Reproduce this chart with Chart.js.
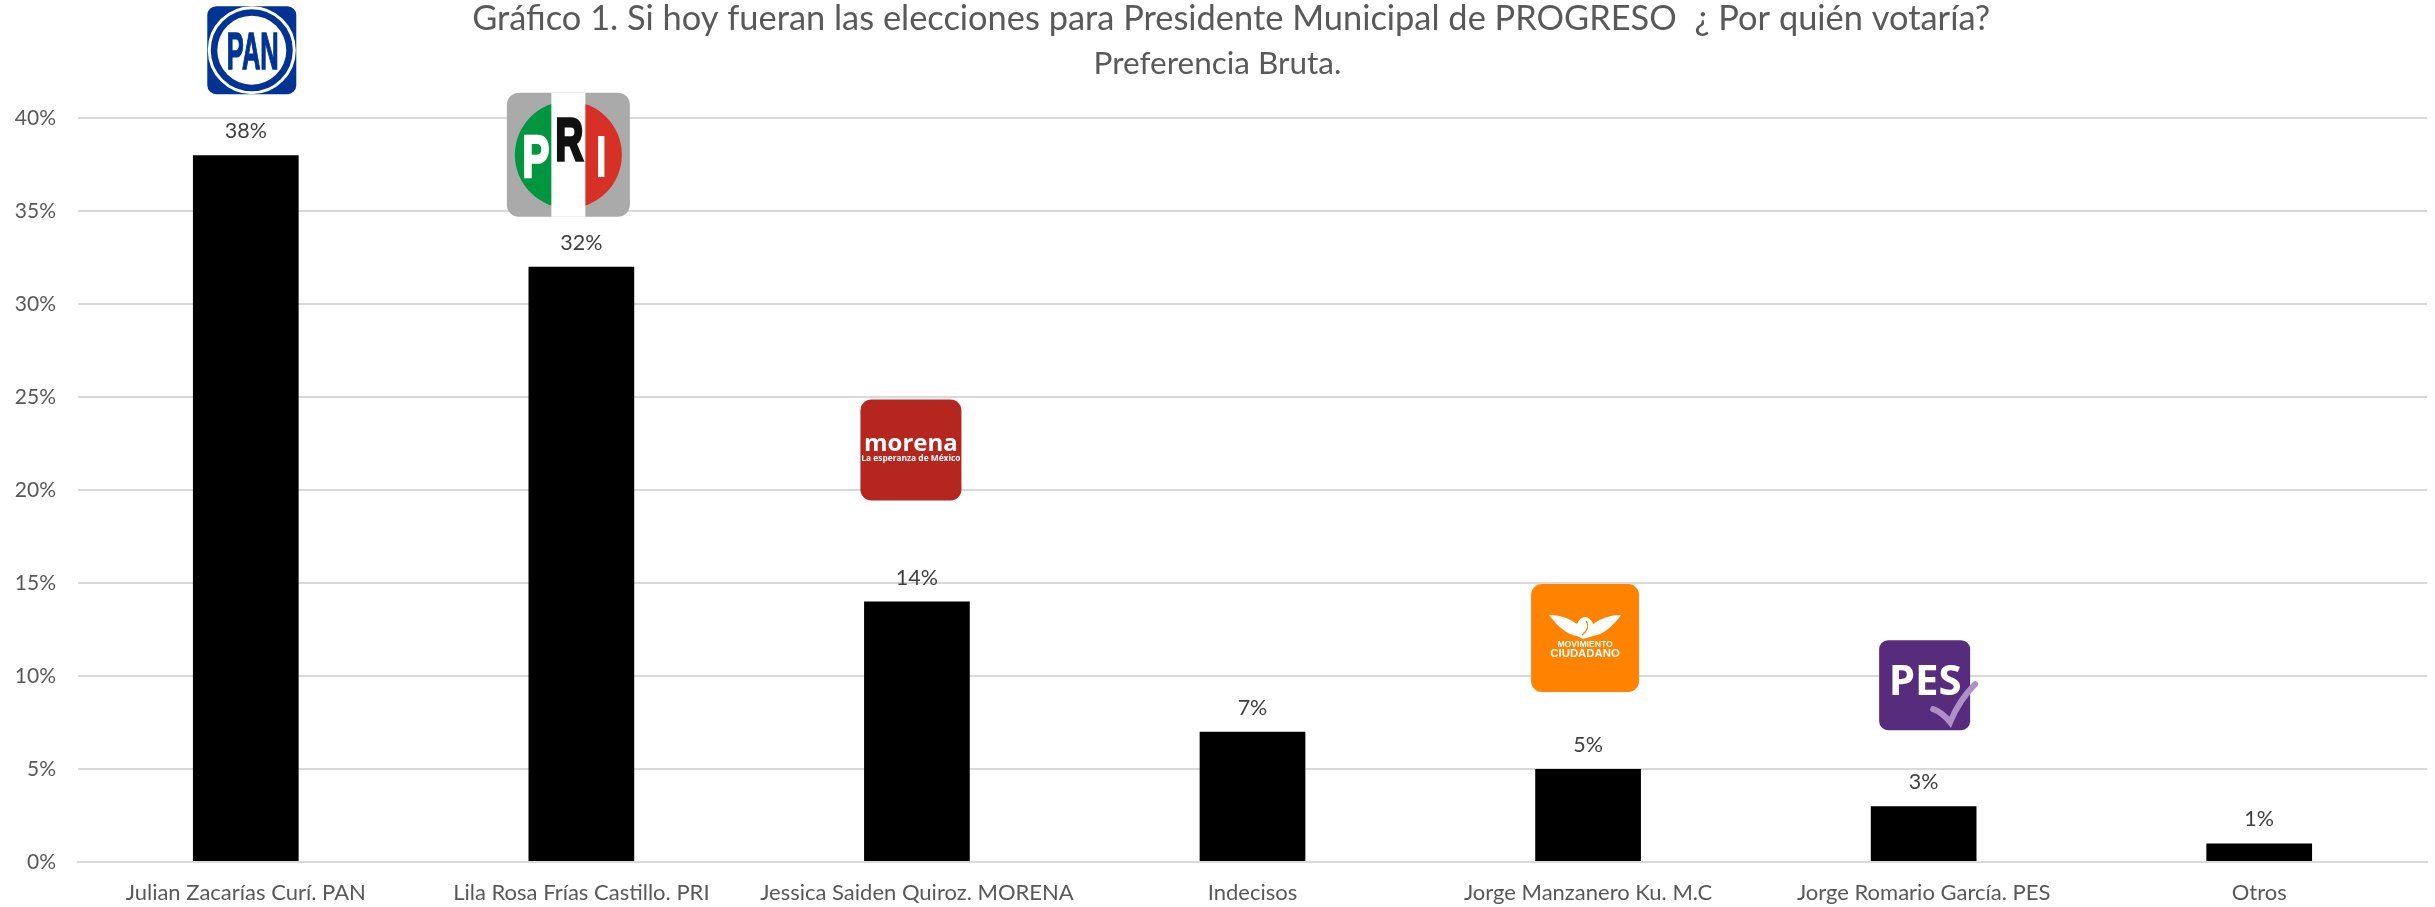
<!DOCTYPE html>
<html lang="es">
<head>
<meta charset="utf-8">
<title>Gráfico 1</title>
<script src="https://cdn.jsdelivr.net/npm/chart.js@4"></script>
<style>
  html, body { margin: 0; padding: 0; background: #fff; overflow: hidden; }
  #wrap { width: 2435px; height: 907px; position: relative; }
</style>
</head>
<body>
<div id="wrap"><canvas id="chart"></canvas></div>
<script>
const categories = [
    'Julian Zacarías Curí. PAN',
    'Lila Rosa Frías Castillo. PRI',
    'Jessica Saiden Quiroz. MORENA',
    'Indecisos',
    'Jorge Manzanero Ku. M.C',
    'Jorge Romario García. PES',
    'Otros'
];
const values = [38, 32, 14, 7, 5, 3, 1];
const titleLine = '    Gráfico 1. Si hoy fueran las elecciones para Presidente Municipal de PROGRESO  ¿ Por quién votaría?';
const subtitleLine = ' Preferencia Bruta.';

const FONT = 'Lato, "Open Sans", sans-serif';
const TEXT_COLOR = '#595959';

function box(ctx, x, y, w, h, r, color) {
    ctx.fillStyle = color;
    ctx.beginPath();
    ctx.roundRect(x, y, w, h, r);
    ctx.fill();
}

function label(ctx, text, x, y, font, color) {
    ctx.font = font;
    ctx.fillStyle = color;
    ctx.textAlign = 'center';
    ctx.textBaseline = 'middle';
    ctx.fillText(text, x, y);
}

// Lettre epaisse et etroite pour les logos PAN et PRI
function heavy(ctx, text, x, baseline, size, scaleX, color, stroke) {
    ctx.save();
    ctx.translate(x, baseline);
    ctx.scale(scaleX, 1);
    ctx.font = 'bold ' + size + 'px "Liberation Sans", sans-serif';
    ctx.textAlign = 'center';
    ctx.textBaseline = 'alphabetic';
    ctx.fillStyle = color;
    ctx.strokeStyle = color;
    ctx.lineWidth = stroke;
    ctx.fillText(text, 0, 0);
    if (stroke > 0) ctx.strokeText(text, 0, 0);
    ctx.restore();
}

// Dessin des logos, chacun dans un carre de w x h
function drawPan(ctx, x, y, w, h) {
    const cx = x + w / 2, cy = y + h / 2;
    box(ctx, x, y, w, h, 9, '#003393');
    ctx.strokeStyle = '#fff';
    ctx.lineWidth = 3;
    ctx.beginPath();
    ctx.arc(cx, cy, 42.5, 0, Math.PI * 2);
    ctx.stroke();
    ctx.fillStyle = '#fff';
    ctx.beginPath();
    ctx.arc(cx, cy, 34.5, 0, Math.PI * 2);
    ctx.fill();
    heavy(ctx, 'PAN', cx + 1, y + 63, 52, 0.49, '#003393', 1.5);
}

function drawPri(ctx, x, y, w, h) {
    const cx = x + w / 2, cy = y + h / 2;
    box(ctx, x, y, w, h, 12, '#aaaaaa');
    ctx.fillStyle = '#009640';
    ctx.beginPath();
    ctx.arc(cx, cy, 53.5, Math.PI / 2, Math.PI * 1.5);
    ctx.fill();
    ctx.fillStyle = '#d63027';
    ctx.beginPath();
    ctx.arc(cx, cy, 53.5, -Math.PI / 2, Math.PI / 2);
    ctx.fill();
    ctx.fillStyle = '#fff';
    ctx.fillRect(cx - 17, y, 34, h);
    heavy(ctx, 'P', x + 29, y + 84, 60, 0.68, '#fff', 2.5);
    heavy(ctx, 'R', x + 62.5, y + 67, 60, 0.64, '#111', 3.5);
    heavy(ctx, 'I', x + 94.5, y + 84, 60, 0.72, '#fff', 0);
}

function drawMorena(ctx, x, y, w, h) {
    const cx = x + w / 2;
    box(ctx, x, y, w, h, 11, '#b5261e');
    label(ctx, 'morena', cx, y + 45, 'bold 24px "Open Sans", sans-serif', '#fff');
    label(ctx, 'La esperanza de México', cx, y + 59, 'bold 8.4px "Open Sans", sans-serif', '#fff');
}

function drawMc(ctx, x, y, w, h) {
    const cx = x + w / 2;
    box(ctx, x, y, w, h, 11, '#ff8300');
    ctx.fillStyle = '#fff';
    ctx.beginPath();
    ctx.moveTo(cx - 36, y + 31);
    ctx.quadraticCurveTo(cx - 20, y + 31, cx - 8, y + 40);
    ctx.quadraticCurveTo(cx - 5, y + 33, cx, y + 33);
    ctx.quadraticCurveTo(cx + 5, y + 33, cx + 8, y + 40);
    ctx.quadraticCurveTo(cx + 20, y + 31, cx + 36, y + 31);
    ctx.quadraticCurveTo(cx + 22, y + 50, cx + 8, y + 52);
    ctx.lineTo(cx - 2, y + 55);
    ctx.lineTo(cx - 8, y + 52);
    ctx.quadraticCurveTo(cx - 22, y + 50, cx - 36, y + 31);
    ctx.fill();
    ctx.strokeStyle = '#ff8300';
    ctx.lineWidth = 1.2;
    ctx.beginPath();
    ctx.moveTo(cx + 1, y + 37);
    ctx.quadraticCurveTo(cx + 6, y + 44, cx - 3, y + 51);
    ctx.stroke();
    label(ctx, 'MOVIMIENTO', cx, y + 61, 'bold 8.6px "Liberation Sans", sans-serif', '#fff');
    label(ctx, 'CIUDADANO', cx, y + 70, 'bold 11.4px "Liberation Sans", sans-serif', '#fff');
}

function drawPes(ctx, x, y, w, h) {
    box(ctx, x, y, w, h, 9, '#582c7c');
    label(ctx, 'PES', x + 46, y + 43, 'bold 42px "Open Sans", sans-serif', '#fff');
    ctx.strokeStyle = '#b08fc7';
    ctx.lineWidth = 6;
    ctx.lineCap = 'round';
    ctx.beginPath();
    ctx.moveTo(x + 54, y + 69);
    ctx.quadraticCurveTo(x + 63, y + 72, x + 71, y + 82);
    ctx.quadraticCurveTo(x + 80, y + 60, x + 96, y + 44);
    ctx.stroke();
    ctx.lineCap = 'butt';
}

const logos = [
    { index: 0, dx: 6, gap: 61, w: 89, h: 88, draw: drawPan },
    { index: 1, dx: -13, gap: 50, w: 123, h: 124, draw: drawPri },
    { index: 2, dx: -6, gap: 101, w: 101, h: 101, draw: drawMorena },
    { index: 4, dx: -3, gap: 77, w: 108, h: 108, draw: drawMc },
    { index: 5, dx: 1, gap: 76, w: 91, h: 90, draw: drawPes }
];

// Etiquettes de valeur et logos, positionnes depuis les barres
const annotations = {
    id: 'annotations',
    afterDatasetsDraw(chart) {
        const ctx = chart.ctx;
        const bars = chart.getDatasetMeta(0).data;
        ctx.save();
        bars.forEach((bar, i) => {
            label(ctx, values[i] + '%', bar.x, bar.y - 24, '21.5px ' + FONT, '#404040');
        });
        logos.forEach(logo => {
            const bar = bars[logo.index];
            const x = bar.x + logo.dx - logo.w / 2;
            const y = bar.y - logo.gap - logo.h;
            logo.draw(ctx, x, y, logo.w, logo.h);
        });
        ctx.restore();
    }
};

new Chart(document.getElementById('chart'), {
    type: 'bar',
    data: {
        labels: categories,
        datasets: [{
            data: values,
            backgroundColor: '#000000',
            categoryPercentage: 1,
            barPercentage: 0.315
        }]
    },
    plugins: [annotations],
    options: {
        responsive: true,
        maintainAspectRatio: false,
        animation: false,
        layout: { padding: { left: 0, right: 8, top: 0, bottom: 0 } },
        plugins: {
            legend: { display: false },
            tooltip: { enabled: false },
            title: {
                display: true,
                text: titleLine,
                color: TEXT_COLOR,
                font: { family: FONT, size: 34.4, weight: 'normal', lineHeight: 1.2 },
                padding: { top: -2, bottom: 5.5 }
            },
            subtitle: {
                display: true,
                text: subtitleLine,
                color: TEXT_COLOR,
                font: { family: FONT, size: 31.5, weight: 'normal', lineHeight: 1.2 },
                padding: { top: 0, bottom: 35.4 }
            }
        },
        scales: {
            x: {
                grid: { display: false },
                border: { color: '#d9d9d9', width: 2 },
                ticks: { color: TEXT_COLOR, font: { family: FONT, size: 22 }, maxRotation: 0, autoSkip: false, padding: 10 },
                afterFit(axis) { axis.height = 45; }
            },
            y: {
                min: 0,
                max: 40,
                grid: { color: '#d9d9d9', lineWidth: 2, drawTicks: false },
                border: { display: false },
                ticks: {
                    stepSize: 5,
                    color: TEXT_COLOR,
                    font: { family: FONT, size: 21 },
                    padding: 22,
                    callback: v => v + '%'
                },
                afterFit(axis) { axis.width = 78; }
            }
        }
    }
});
</script>
</body>
</html>
